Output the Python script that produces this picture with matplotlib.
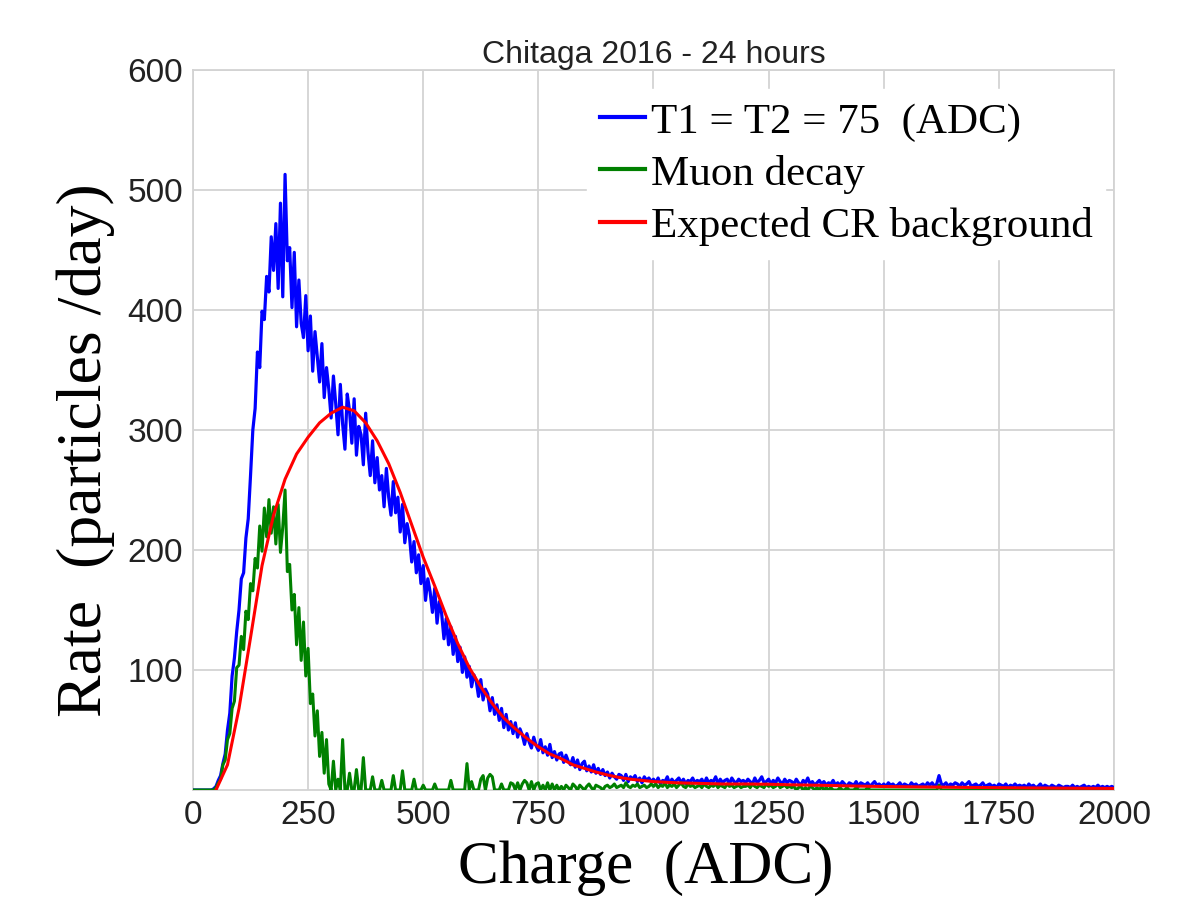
import matplotlib
matplotlib.use("Agg")
import matplotlib.pyplot as plt
import numpy as np

# charge bins (ADC), 5 ADC wide
charge = np.arange(0, 2001, 5)

# total rate with T1 = T2 = 75 ADC (particles/day per bin)
rate_all = [
    0, 0, 0, 0, 0, 0, 0, 0, 0, 1, 3, 8, 12, 22, 30, 50, 64, 95, 110, 132,
    150, 176, 181, 210, 226, 262, 300, 318, 365, 352, 399, 392, 428, 415, 461, 433, 472, 418, 489, 411,
    513, 441, 452, 402, 448, 386, 425, 389, 377, 412, 366, 395, 349, 382, 361, 340, 372, 327, 352, 334,
    310, 345, 322, 296, 338, 305, 284, 330, 316, 289, 326, 279, 303, 296, 271, 314, 282, 262, 291, 256,
    277, 250, 262, 236, 268, 244, 229, 257, 231, 244, 215, 238, 206, 222, 212, 190, 207, 181, 196, 172,
    187, 158, 176, 165, 148, 168, 139, 157, 147, 126, 143, 121, 136, 113, 128, 107, 119, 98, 111, 94,
    103, 86, 96, 91, 78, 92, 75, 84, 80, 66, 77, 63, 71, 58, 68, 52, 63, 50, 57, 47,
    56, 44, 51, 46, 38, 47, 40, 35, 44, 37, 33, 42, 31, 36, 29, 38, 27, 32, 25, 30,
    31, 23, 29, 24, 21, 27, 19, 25, 17, 22, 24, 16, 20, 15, 21, 14, 18, 13, 17, 12,
    15, 10, 14, 11, 9, 13, 12, 8, 13, 7, 11, 9, 12, 7, 10, 6, 11, 8, 10, 7,
    9, 6, 10, 5, 8, 7, 11, 5, 9, 6, 8, 10, 6, 9, 5, 8, 7, 10, 6, 8,
    7, 9, 5, 10, 6, 8, 7, 11, 5, 9, 6, 8, 9, 5, 10, 7, 6, 9, 7, 8,
    6, 9, 7, 5, 10, 6, 8, 11, 6, 7, 9, 5, 8, 6, 10, 7, 5, 9, 6, 8,
    7, 5, 9, 6, 4, 8, 6, 10, 5, 7, 4, 6, 8, 5, 7, 4, 6, 5, 8, 4,
    6, 4, 7, 5, 3, 6, 5, 4, 7, 3, 6, 5, 4, 6, 3, 5, 7, 4, 5, 3,
    5, 3, 6, 4, 5, 3, 4, 6, 3, 5, 4, 3, 6, 4, 5, 3, 4, 5, 3, 6,
    4, 6, 3, 5, 12, 5, 4, 6, 3, 5, 4, 6, 5, 3, 6, 4, 5, 7, 3, 4,
    5, 3, 4, 6, 3, 4, 5, 3, 4, 2, 5, 4, 3, 5, 2, 4, 3, 5, 3, 4,
    3, 4, 2, 5, 3, 4, 2, 3, 5, 2, 4, 3, 2, 4, 3, 2, 4, 3, 2, 3,
    3, 2, 4, 2, 3, 2, 3, 4, 2, 3, 2, 3, 2, 4, 2, 3, 2, 3, 2, 3,
    2,
]

# muon decay candidates
rate_muon = [
    0, 0, 0, 0, 0, 0, 0, 0, 0, 0, 2, 6, 9, 21, 25, 42, 47, 68, 74, 102,
    104, 128, 117, 149, 142, 172, 166, 193, 185, 220, 199, 235, 211, 242, 214, 236, 205, 238, 198, 219,
    250, 182, 188, 150, 163, 121, 152, 108, 140, 95, 118, 72, 80, 45, 66, 28, 48, 14, 42, 5,
    0, 24, 0, 9, 0, 42, 0, 0, 14, 0, 0, 17, 0, 0, 27, 0, 0, 0, 11, 0,
    0, 0, 8, 0, 0, 0, 0, 12, 0, 0, 0, 16, 0, 0, 0, 0, 9, 0, 0, 0,
    4, 0, 0, 0, 0, 5, 0, 0, 0, 0, 0, 0, 8, 0, 0, 0, 0, 0, 0, 22,
    0, 7, 0, 0, 0, 9, 12, 0, 10, 13, 11, 0, 0, 0, 5, 0, 0, 0, 6, 5,
    0, 6, 0, 5, 8, 6, 0, 7, 0, 5, 6, 0, 4, 0, 6, 0, 5, 0, 4, 0,
    3, 0, 4, 2, 0, 5, 3, 0, 4, 2, 0, 3, 5, 2, 0, 4, 3, 2, 0, 3,
    4, 2, 3, 5, 2, 3, 4, 2, 6, 3, 2, 4, 3, 5, 2, 3, 4, 2, 3, 5,
    3, 5, 2, 4, 3, 6, 2, 4, 3, 5, 2, 4, 6, 3, 2, 5, 3, 4, 2, 3,
    4, 2, 5, 3, 2, 4, 3, 5, 2, 4, 3, 2, 5, 3, 4, 2, 3, 4, 2, 3,
    3, 4, 2, 5, 3, 2, 4, 3, 2, 5, 3, 4, 2, 3, 5, 2, 3, 4, 2, 3,
    2, 3, 0, 2, 3, 0, 2, 0, 3, 2, 0, 2, 0, 3, 0, 2, 0, 2, 0, 0,
    0, 2, 0, 0, 2, 0, 0, 0, 2, 0, 0, 0, 0, 2, 0, 0, 0, 0, 0, 0,
    0, 0, 0, 0, 0, 0, 0, 0, 0, 0, 0, 0, 0, 0, 0, 0, 0, 0, 0, 0,
    0, 0, 0, 0, 4, 0, 0, 0, 0, 0, 0, 0, 0, 0, 0, 0, 0, 0, 0, 0,
    0, 0, 0, 0, 0, 0, 0, 0, 0, 0, 0, 0, 0, 0, 0, 0, 0, 0, 0, 0,
    0, 0, 0, 0, 0, 0, 0, 0, 0, 0, 0, 0, 0, 0, 0, 0, 0, 0, 0, 0,
    0, 0, 0, 0, 0, 0, 0, 0, 0, 0, 0, 0, 0, 0, 0, 0, 0, 0, 0, 0,
    0,
]

# expected cosmic-ray background
bg_charge = [50, 75, 100, 125, 150, 175, 200, 225, 250, 275, 300, 325, 350, 375, 400,
             425, 450, 475, 500, 525, 550, 575, 600, 625, 650, 675, 700, 725, 750,
             775, 800, 825, 850, 875, 900, 925, 950, 975, 1000, 1050, 1100, 1150,
             1200, 1250, 1300, 1350, 1400, 1450, 1500, 1600, 1700, 1800, 1900, 2000]
bg_rate = [0, 21, 68, 127, 187, 229, 259, 280, 294, 306, 314, 319, 316, 306, 291,
           272, 248, 221, 194, 170, 145, 122, 102, 86, 72, 60, 51, 43, 36,
           30, 26, 21, 18, 15, 12.5, 10.5, 9, 8, 7, 6, 5.5, 5,
           5, 4.8, 4.3, 4, 3.6, 3.2, 2.9, 2.5, 2.1, 1.8, 1.5, 1.3]

serif = 'Liberation Serif'
sans = 'Liberation Sans'

fig = plt.figure(figsize=(11.78, 9.01), dpi=100)
ax = fig.add_axes([0.1638, 0.1232, 0.7819, 0.7991])

ax.plot(charge, rate_all, color='#0000ff', lw=2.3, label='T1 = T2 = 75  (ADC)', zorder=3)
ax.plot(charge, rate_muon, color='#008000', lw=2.2, label='Muon decay', zorder=4)
ax.plot(bg_charge, bg_rate, color='#ff0000', lw=2.2, label='Expected CR background', zorder=5)

ax.set_xlim(0, 2000)
ax.set_ylim(0, 600)
ax.set_xticks(np.arange(0, 2001, 250))
ax.set_yticks([100, 200, 300, 400, 500, 600])
ax.tick_params(length=0, labelsize=24, pad=7)
for lab in ax.get_xticklabels() + ax.get_yticklabels():
    lab.set_fontfamily(sans)
    lab.set_color('#222222')

ax.grid(True, color='#d3d3d3', lw=1.3)
ax.set_axisbelow(True)
for s in ax.spines.values():
    s.set_color('#d3d3d3')
    s.set_linewidth(1.3)

ax.set_title('Chitaga 2016 - 24 hours', fontsize=23, fontfamily=sans, pad=5, color='#222222')
ax.set_xlabel('Charge  (ADC)', fontsize=44, fontfamily=serif)
ax.set_ylabel('Rate  (particles /day)', fontsize=46, fontfamily=serif)
ax.xaxis.set_label_coords(0.492, -0.07)
ax.yaxis.set_label_coords(-0.085, 0.472)

leg = ax.legend(loc='upper right', bbox_to_anchor=(1.0, 0.985),
                prop={'family': serif, 'size': 31},
                frameon=True, fancybox=False, framealpha=1.0, edgecolor='white',
                handlelength=1.05, handletextpad=0.12, labelspacing=0.3,
                borderpad=0.3, borderaxespad=0.2)
for line in leg.get_lines():
    line.set_linewidth(3)

fig.savefig('out.png', dpi=100)
